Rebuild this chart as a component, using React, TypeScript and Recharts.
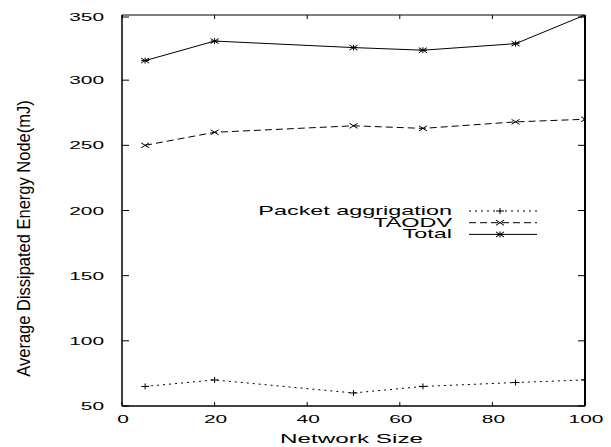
import { LineChart, Line, XAxis, YAxis, Legend } from "recharts";

const networkSizes = [5, 20, 50, 65, 85, 100];
const packetAggrigation = [65, 70, 60, 65, 68, 70];
const taodv = [250, 260, 265, 263, 268, 270];
const total = [315, 330, 325, 323, 328, 350];
const xTicks = [0, 20, 40, 60, 80, 100];
const yTicks = [50, 100, 150, 200, 250, 300, 350];

type MarkerKind = "plus" | "cross" | "star";

const series: { key: string; name: string; dash?: string; marker: MarkerKind }[] = [
  { key: "packet", name: "Packet aggrigation", dash: "2 4", marker: "plus" },
  { key: "taodv", name: "TAODV", dash: "7 4", marker: "cross" },
  { key: "total", name: "Total", marker: "star" },
];

const data = networkSizes.map((x, i) => ({
  x,
  packet: packetAggrigation[i],
  taodv: taodv[i],
  total: total[i],
}));

const FONT = "'Liberation Sans', Arial, Helvetica, sans-serif";

function Marker({ cx, cy, kind }: { cx?: number; cy?: number; kind: MarkerKind }) {
  if (cx == null || cy == null) return null;
  const w = 4;
  const h = 2.5;
  return (
    <g stroke="#000" strokeWidth={1}>
      {kind !== "cross" && (
        <>
          <line x1={cx - w} x2={cx + w} y1={cy} y2={cy} />
          <line x1={cx} x2={cx} y1={cy - h - 0.5} y2={cy + h + 0.5} />
        </>
      )}
      {kind !== "plus" && (
        <>
          <line x1={cx - w} x2={cx + w} y1={cy - h} y2={cy + h} />
          <line x1={cx - w} x2={cx + w} y1={cy + h} y2={cy - h} />
        </>
      )}
    </g>
  );
}

// gnuplot style: tick marks point into the plot, drawn here next to the label
function LeftTick({ x, y, payload }: any) {
  return (
    <g>
      <path d={`M${x},${y}h7`} stroke="#000" strokeWidth={1} fill="none" />
      <text
        transform={`translate(${x - 18},${y + 4}) scale(1.9,1)`}
        textAnchor="end"
        fontFamily={FONT}
        fontSize={11}
        fill="#000"
      >
        {payload.value}
      </text>
    </g>
  );
}

function RightTick({ x, y }: any) {
  return <path d={`M${x},${y}h-7`} stroke="#000" strokeWidth={1} fill="none" />;
}

function BottomTick({ x, y, payload }: any) {
  return (
    <g>
      <path d={`M${x},${y}v-4`} stroke="#000" strokeWidth={1} fill="none" />
      <text
        transform={`translate(${x + 1},${y + 17}) scale(1.9,1)`}
        textAnchor="middle"
        fontFamily={FONT}
        fontSize={11}
        fill="#000"
      >
        {payload.value}
      </text>
    </g>
  );
}

function TopTick({ x, y }: any) {
  return <path d={`M${x},${y}v4`} stroke="#000" strokeWidth={1} fill="none" />;
}

function YLabel({ viewBox }: any) {
  if (!viewBox) return null;
  const cx = viewBox.x - 38;
  const cy = viewBox.y + viewBox.height / 2 + 28;
  return (
    <text
      transform={`translate(${cx},${cy}) rotate(-90) scale(1,1.1)`}
      textAnchor="middle"
      dy="0.35em"
      fontFamily={FONT}
      fontSize={16.5}
      fill="#000"
    >
      Average Dissipated Energy Node(mJ)
    </text>
  );
}

function XLabel({ viewBox }: any) {
  if (!viewBox) return null;
  return (
    <text
      transform={`translate(${viewBox.x + viewBox.width / 2 - 2},${viewBox.y + 37}) scale(1.87,1)`}
      textAnchor="middle"
      fontFamily={FONT}
      fontSize={13}
      fill="#000"
    >
      Network Size
    </text>
  );
}

function LegendContent() {
  return (
    <svg width={320} height={40} style={{ overflow: "visible" }}>
      {series.map((s, i) => {
        const base = 9 + i * 11.7;
        const ly = base - 4;
        return (
          <g key={s.key}>
            <text
              transform={`translate(214,${base}) scale(1.95,1)`}
              textAnchor="end"
              fontFamily={FONT}
              fontSize={12}
              fill="#000"
            >
              {s.name}
            </text>
            <line x1={231} x2={299} y1={ly} y2={ly} stroke="#000" strokeWidth={1} strokeDasharray={s.dash} />
            <Marker cx={262} cy={ly} kind={s.marker} />
          </g>
        );
      })}
    </svg>
  );
}

export default function App() {
  return (
    <LineChart width={603} height={439} data={data} margin={{ top: 6, right: 25, bottom: 11, left: 54 }}>
      <XAxis
        xAxisId="b"
        dataKey="x"
        type="number"
        domain={[0, 100]}
        ticks={xTicks}
        allowDataOverflow
        height={30}
        tickSize={0}
        tickMargin={0}
        tick={<BottomTick />}
        tickLine={false}
        axisLine={{ stroke: "#000", strokeWidth: 1.5 }}
        label={<XLabel />}
      />
      <XAxis
        xAxisId="t"
        orientation="top"
        dataKey="x"
        type="number"
        domain={[0, 100]}
        ticks={xTicks}
        allowDataOverflow
        height={1}
        tickSize={0}
        tickMargin={0}
        tick={<TopTick />}
        tickLine={false}
        axisLine={{ stroke: "#000", strokeWidth: 1 }}
      />
      <YAxis
        yAxisId="l"
        type="number"
        domain={[50, 350]}
        ticks={yTicks}
        allowDataOverflow
        width={60}
        tickSize={0}
        tickMargin={0}
        tick={<LeftTick />}
        tickLine={false}
        axisLine={{ stroke: "#000", strokeWidth: 1.5 }}
        label={<YLabel />}
      />
      <YAxis
        yAxisId="r"
        orientation="right"
        type="number"
        domain={[50, 350]}
        ticks={yTicks}
        allowDataOverflow
        width={1}
        tickSize={0}
        tickMargin={0}
        tick={<RightTick />}
        tickLine={false}
        axisLine={{ stroke: "#000", strokeWidth: 2 }}
      />
      <Legend
        layout="vertical"
        align="center"
        verticalAlign="middle"
        wrapperStyle={{ left: 230, top: 198, width: 320, height: 40 }}
        content={<LegendContent />}
      />
      {series.map((s) => (
        <Line
          key={s.key}
          xAxisId="b"
          yAxisId="l"
          dataKey={s.key}
          name={s.name}
          stroke="#000"
          strokeWidth={1}
          strokeDasharray={s.dash}
          dot={(p: any) => <Marker key={`${s.key}-${p.index}`} cx={p.cx} cy={p.cy} kind={s.marker} />}
          activeDot={false}
          isAnimationActive={false}
        />
      ))}
    </LineChart>
  );
}
